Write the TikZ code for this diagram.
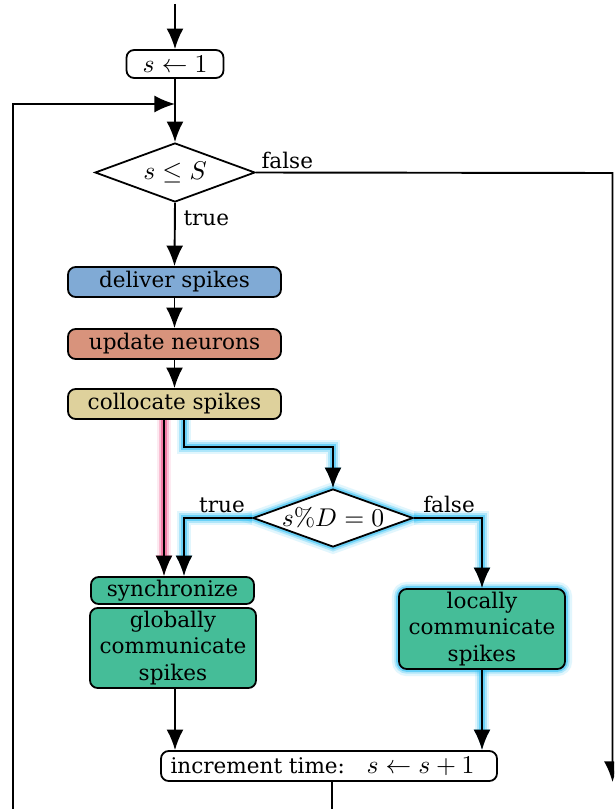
\documentclass[tikz,border=0pt]{standalone}
\usepackage[no-math]{fontspec}
\setmainfont{DejaVu Serif}[Scale=0.84]
\usetikzlibrary{arrows.meta,shapes.geometric}
\def\pxu{0.39pt}
\definecolor{cdeliver}{HTML}{80AAD5}
\definecolor{cupdate}{HTML}{D8937C}
\definecolor{ccolloc}{HTML}{DED19C}
\definecolor{cgreen}{HTML}{45BD98}
\definecolor{cglow}{HTML}{3CC4F5}
\definecolor{cpink}{HTML}{F05A8C}
\begin{document}
\begin{tikzpicture}[x=0.39pt,y=-0.39pt,
  font=\fontsize{10}{10.2}\selectfont,
  box/.style={draw, line width=0.7pt, rounded corners=3pt, inner sep=0pt, align=center},
  dec/.style={draw, diamond, line width=0.7pt, aspect=2.7, inner sep=0pt, fill=white},
  arr/.style={-{Latex[length=8pt,width=6.6pt]}, line width=0.75pt},
  glow/.style={preaction={draw=cglow, line width=5.5pt, opacity=0.15},
               preaction={draw=cglow, line width=3.6pt, opacity=0.3},
               preaction={draw=cglow, line width=2.2pt, opacity=0.6}},
  pglow/.style={preaction={draw=cpink, line width=5.5pt, opacity=0.12},
                preaction={draw=cpink, line width=3.6pt, opacity=0.28},
                preaction={draw=cpink, line width=2.2pt, opacity=0.65}},
  lbl/.style={inner sep=0pt}
]
\clip (0,0) rectangle (614,809);
\fill[white] (0,0) rectangle (614,809);

% nodes
\node[box, minimum width={97*\pxu}, minimum height={28*\pxu}] (s1) at (175,64) {$s\leftarrow 1$};
\node[dec, minimum width={160*\pxu}, minimum height={59*\pxu}] (d1) at (175,172.5) {\makebox[0pt]{$s\leq S$}};
\node[box, fill=cdeliver, minimum width={213*\pxu}, minimum height={30*\pxu}] (del) at (174.5,282) {deliver spikes};
\node[box, fill=cupdate, minimum width={213*\pxu}, minimum height={30*\pxu}] (upd) at (174.5,344) {update neurons};
\node[box, fill=ccolloc, minimum width={213*\pxu}, minimum height={30*\pxu}] (col) at (174.5,404) {collocate spikes};
\node[dec, glow, minimum width={160*\pxu}, minimum height={58*\pxu}] (d2) at (333,518) {\makebox[0pt]{$s\%D=0$}};
\node[box, fill=cgreen, minimum width={163*\pxu}, minimum height={27*\pxu}] (syn) at (172.5,590.5) {synchronize};
\node[box, fill=cgreen, minimum width={166*\pxu}, minimum height={80*\pxu}] (glob) at (173,648) {globally\\communicate\\spikes};
\node[box, fill=cgreen, glow, minimum width={166*\pxu}, minimum height={80*\pxu}] (loc) at (482,629) {locally\\communicate\\spikes};
\node[box, fill=white, minimum width={336*\pxu}, minimum height={30*\pxu}] (inc) at (329,766) {increment time:\quad$s\leftarrow s+1$\hspace*{5pt}};

% coordinates
\coordinate (top) at (175,4);
\coordinate (join) at (175,104);
\coordinate (fcorner) at (612.5,173);
\coordinate (fend) at (612.5,782);
\coordinate (px) at (164,0);
\coordinate (bturn) at (184,447);
\coordinate (lx) at (332,0);
\coordinate (lbot) at (332,840);
\coordinate (lleft) at (13,840);

% connectors
\draw[arr] (top) -- (s1.north);
\draw[arr] (s1.south) -- (d1.north);
\draw[arr] (inc.south -| lx) -- (lbot) -- (lleft) |- (join);
\draw[arr] (d1.east) -- (fcorner) -- (fend);
\node[lbl, anchor=south west] at (261,169) {false};
\draw[arr] (d1.south) -- (del.north);
\node[lbl, anchor=west] at (183,218) {true};
\draw[arr] (del.south) -- (upd.north);
\draw[arr] (upd.south) -- (col.north);
\draw[arr, pglow] (col.south -| px) -- (syn.north -| px);
\draw[arr, glow] (col.south -| bturn) -- (bturn) -| (d2.north);
\draw[arr, glow] (d2.west) -| (syn.north -| bturn);
\node[lbl, anchor=south] at (222,513) {true};
\draw[arr, glow] (d2.east) -| (loc.north);
\node[lbl, anchor=south] at (449,513) {false};
\draw[arr] (glob.south -| top) -- (inc.north -| top);
\draw[arr, glow] (loc.south) -- (inc.north -| loc.south);
\end{tikzpicture}
\end{document}
